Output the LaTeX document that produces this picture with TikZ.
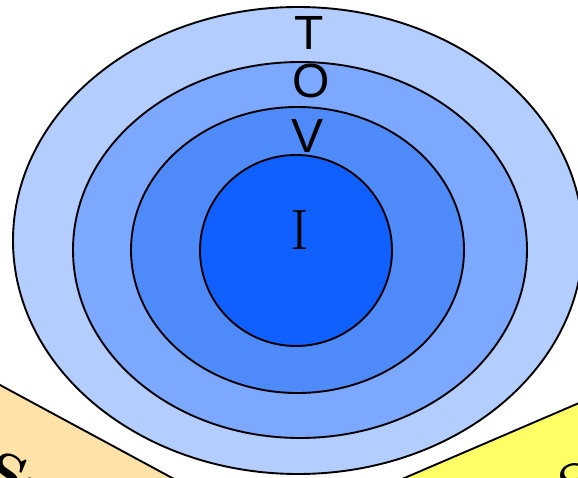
\documentclass[tikz,border=0pt]{standalone}
\usepackage{fontspec}
\newfontfamily\sansf{Liberation Sans}
\usetikzlibrary{shapes.geometric}
\definecolor{ringA}{RGB}{180,205,255}
\definecolor{ringB}{RGB}{124,168,255}
\definecolor{ringC}{RGB}{78,139,248}
\definecolor{ringD}{RGB}{16,96,255}
\definecolor{tanbox}{RGB}{255,226,168}
\definecolor{yelbox}{RGB}{255,255,102}
\tikzset{
  ring/.style={ellipse, draw=black, line width=1.9pt, inner sep=0pt},
  sanslbl/.style={font=\sansf\fontsize{48}{48}\selectfont, inner sep=0pt},
  seriflbl/.style={font=\fontsize{57}{57}\selectfont, inner sep=0pt},
  cornerbox/.style={draw=black, line width=1.9pt},
  cornertext/.style={font=\bfseries\fontsize{58}{58}\selectfont, anchor=north west, inner sep=0pt},
}
\begin{document}
\begin{tikzpicture}[x=1pt,y=1pt]
\useasboundingbox (0,0) rectangle (578,477);
\node[ring, fill=ringA, minimum width=570pt, minimum height=467pt] (outer) at (298,236.5) {};
\node[ring, fill=ringB, minimum width=454pt, minimum height=376pt] (second) at (300,227) {};
\node[ring, fill=ringC, minimum width=333pt, minimum height=286pt] (third) at (297.5,227) {};
\node[ring, fill=ringD, minimum width=192pt, minimum height=191pt] (inner) at (296,226.5) {};
\node[sanslbl] (T) at (309,444) {T};
\node[sanslbl] (O) at (311,396) {O};
\node[sanslbl] (V) at (308,341) {V};
\node[seriflbl] (I) at (300,247) {I};
\draw[cornerbox, fill=tanbox] (-60,124.4) -- (220,-26.8) -- (220,-120) -- (-60,-120) -- cycle;
\draw[cornerbox, fill=yelbox] (380,-11.5) -- (620,91.6) -- (620,-120) -- (380,-120) -- cycle;
\node[cornertext, rotate=-22] (lefttext) at (-1,28) {Su};
\node[cornertext, rotate=23] (righttext) at (553,6) {S};
\end{tikzpicture}
\end{document}
